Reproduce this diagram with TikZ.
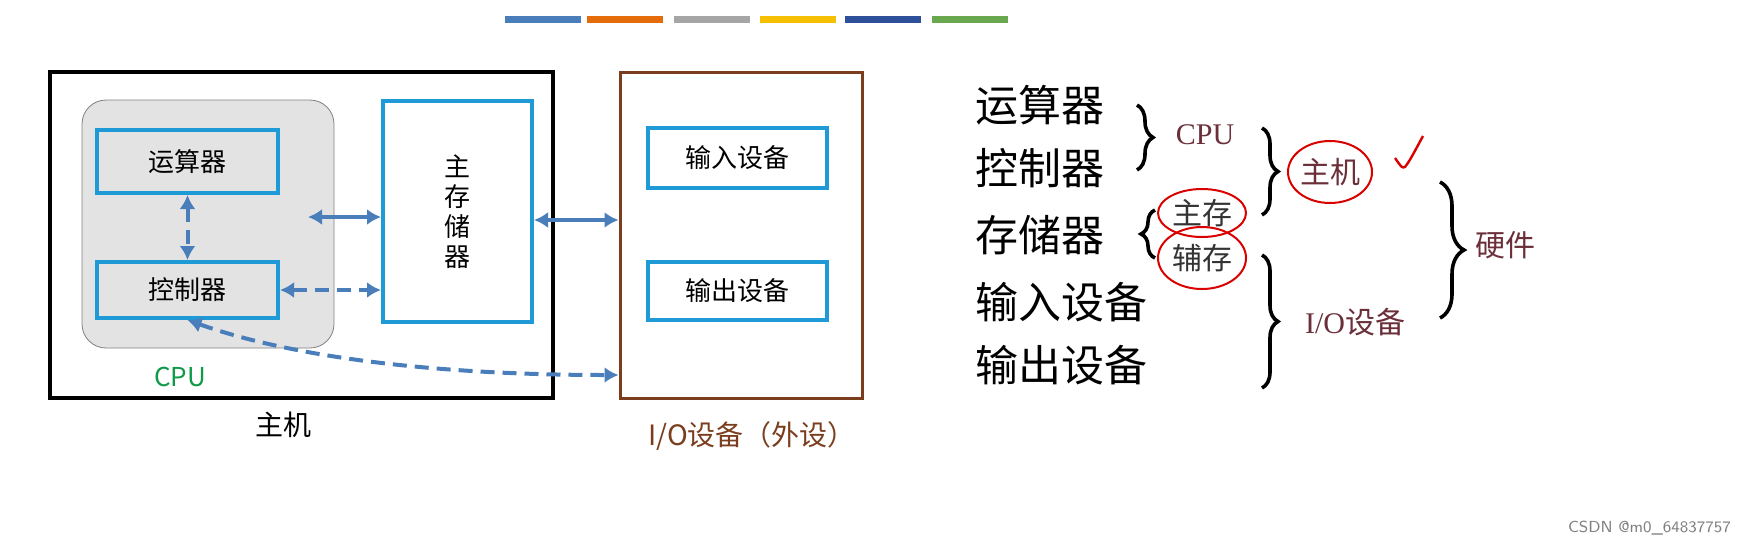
\documentclass[tikz,border=0pt]{standalone}
\usepackage{fontspec}
\setmainfont{Liberation Serif}
\newfontfamily\cjk{Noto Sans CJK SC}
\newfontfamily\cjksans{Noto Sans CJK SC}
\usetikzlibrary{arrows.meta,decorations.pathreplacing}
\definecolor{ablue}{HTML}{4A7EBB}
\definecolor{cyanb}{HTML}{1E9AD6}
\definecolor{brownb}{HTML}{7A3E1E}
\definecolor{wine}{HTML}{6B2F3A}
\definecolor{cpug}{HTML}{0F9A48}
\tikzset{
 inbox/.style={draw=cyanb,line width=2pt,font=\cjk\fontsize{13}{13}\selectfont},
 arr/.style={ablue,line width=2pt,{Latex[length=7pt,width=8pt]}-{Latex[length=7pt,width=8pt]}},
 darr/.style={arr,dash pattern=on 7pt off 4pt},
 big/.style={font=\cjk\fontsize{21.5}{21.5}\selectfont,anchor=west},
 lab/.style={wine,font=\fontsize{15}{15}\selectfont\cjk},
 br/.style={decorate,decoration={brace,amplitude=8pt},line width=1.8pt},
 ring/.style={red!85!black,line width=1pt}
}
\begin{document}
\begin{tikzpicture}[x=0.5pt,y=-0.5pt]
\useasboundingbox (0,0) rectangle (1743,542);
% colour bar
\foreach \a/\c in {505/4A7EBB,587/E46C0A,674/A5A5A5,760/F6C000,845/2E509B,932/6AA84F}{
 \definecolor{tmp}{HTML}{\c}
 \fill[tmp] (\a,16) rectangle ++(76,7);}
% main box
\node[draw,line width=2pt,minimum width=251.5pt,minimum height=163pt,inner sep=0pt] (host) at (301.5,235) {};
\node[draw=gray,fill=gray!22,rounded corners=12pt,minimum width=126pt,minimum height=124pt,inner sep=0pt] (cpu) at (208,224) {};
\node[inbox,fill=gray!22,minimum width=90.5pt,minimum height=31.5pt,inner sep=0pt] (alu) at (187.5,161.5) {运算器};
\node[inbox,fill=gray!22,minimum width=90.5pt,minimum height=28pt,inner sep=0pt] (ctl) at (187.5,290) {控制器};
\node[inbox,fill=white,minimum width=74.5pt,minimum height=110.5pt,inner sep=0pt,align=center] (mem) at (457.5,211.5) {主\\[2pt]存\\[2pt]储\\[2pt]器};
\node[draw=brownb,line width=1.5pt,minimum width=121pt,minimum height=163pt,inner sep=0pt] (io) at (741,235) {};
\node[inbox,minimum width=89.5pt,minimum height=30pt,inner sep=0pt] (inp) at (737.5,158) {输入设备};
\node[inbox,minimum width=89.5pt,minimum height=29pt,inner sep=0pt] (outp) at (737.5,291) {输出设备};
\node[cpug,font=\cjksans\fontsize{13}{13}\selectfont] (cpul) at (180,377) {CPU};
\node[font=\cjk\fontsize{14}{14}\selectfont] (hostl) at (283,425) {主机};
\node[brownb,font=\cjk\fontsize{14}{14}\selectfont] (iol) at (752,436) {I/O设备（外设）};
% arrows
\coordinate (a1) at (308,217); \coordinate (a2) at (mem.west|-a1);
\draw[arr] (a1) -- (a2);
\draw[darr] (ctl.east) -- (mem.west|-ctl.east);
\draw[darr] (alu.south) -- (ctl.north);
\coordinate (b1) at (mem.east|-0,220); \coordinate (b2) at (io.west|-0,220);
\draw[arr] (b1) -- (b2);
\coordinate (c2) at (io.west|-0,375);
\draw[darr] (ctl.south) .. controls (300,360) and (450,375) .. (c2);
% right side
\node[big] (t1) at (968,105) {运算器};
\node[big] (t2) at (968,168) {控制器};
\node[big] (t3) at (968,235) {存储器};
\node[big] (t4) at (968,302) {输入设备};
\node[big] (t5) at (968,365) {输出设备};
\coordinate (p1) at (1137,105); \coordinate (p2) at (1137,170);
\draw[br] (p1) -- (p2);
\node[wine,font=\fontsize{15}{15}\selectfont] (cpur) at (1205,135) {CPU};
\coordinate (q1) at (1262,128); \coordinate (q2) at (1262,215);
\draw[br] (q1) -- (q2);
\node[lab] (hostr) at (1330,172) {主机};
\coordinate (r1) at (1155,258); \coordinate (r2) at (1155,210);
\draw[br,decoration={amplitude=7pt}] (r1) -- (r2);
\node[lab,black!80] (zc) at (1202,213) {主存};
\node[lab,black!80] (fc) at (1202,258) {辅存};
\coordinate (s1) at (1262,255); \coordinate (s2) at (1262,388);
\draw[br] (s1) -- (s2);
\node[wine,font=\fontsize{15}{15}\selectfont] (ior) at (1355,322) {I/O\cjk 设备};
\coordinate (u1) at (1440,182); \coordinate (u2) at (1440,318);
\draw[br,decoration={amplitude=12pt}] (u1) -- (u2);
\node[lab] (hw) at (1505,245) {硬件};
\draw[ring] (hostr) ellipse (42 and 31);
\draw[ring] (zc) ellipse (44 and 24);
\draw[ring] (fc) ellipse (44 and 31);
\draw[ring,line width=1.2pt] (1395,158) .. controls (1402,168) .. (1405,167) .. controls (1410,160) .. (1423,136);
\node[gray,font=\sffamily\fontsize{8}{8}\selectfont,anchor=east] (wm) at (1738,528) {CSDN @m0\_64837757};
\end{tikzpicture}
\end{document}
